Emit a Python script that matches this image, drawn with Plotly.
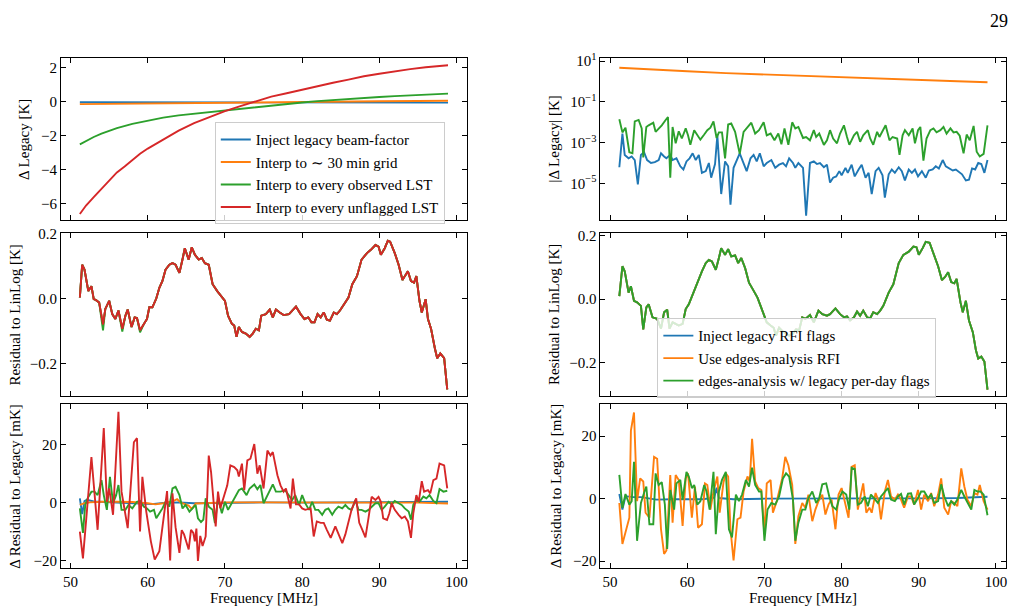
import plotly.graph_objects as go

# ---------------- data ----------------
# Top-left: Delta Legacy [K]
tl_blue_f = [51.2, 55, 60, 65, 70, 75, 80, 85, 90, 95, 98.9]
tl_blue_v = [-0.03, -0.03, -0.03, -0.02, -0.02, -0.02, -0.02, -0.03, -0.03, -0.03, -0.04]
tl_orange_f = [51.2, 55, 60, 65, 70, 75, 80, 85, 90, 95, 98.9]
tl_orange_v = [-0.14, -0.12, -0.09, -0.07, -0.04, -0.02, 0.0, 0.02, 0.03, 0.05, 0.06]
tl_green_f = [51.2, 52, 53, 54, 55, 56, 58, 60, 62, 64, 66, 68, 70, 72, 74, 76, 78, 80, 82, 84, 86, 88, 90, 92, 94, 96, 98, 98.9]
tl_green_v = [-2.5, -2.3, -2.07, -1.87, -1.7, -1.55, -1.3, -1.1, -0.93, -0.8, -0.7, -0.61, -0.52, -0.41, -0.31, -0.21, -0.12, -0.04, 0.04, 0.11, 0.17, 0.23, 0.28, 0.33, 0.38, 0.42, 0.46, 0.48]
tl_red_f = [51.2, 52, 53, 54, 55, 56, 57, 58, 59, 60, 62, 64, 66, 68, 70, 72, 74, 76, 78, 80, 82, 84, 86, 88, 90, 92, 94, 96, 98, 98.9]
tl_red_v = [-6.6, -6.1, -5.6, -5.1, -4.6, -4.15, -3.8, -3.4, -3.05, -2.75, -2.2, -1.7, -1.25, -0.9, -0.55, -0.25, 0.02, 0.3, 0.5, 0.72, 0.92, 1.12, 1.3, 1.5, 1.65, 1.8, 1.92, 2.03, 2.12, 2.15]

# Middle-left: residual to LinLog [K]
ml_f = [51.2, 51.5, 51.8, 52.3, 52.7, 53.0, 53.3, 53.7, 54.2, 54.5, 55.0, 55.4, 55.8, 56.2, 56.7, 57.1, 57.4, 57.9, 58.3, 58.6,
        59.0, 59.5, 59.9, 60.2, 60.6, 61.1, 61.5, 61.9, 62.3, 62.8, 63.2, 63.6, 64.1, 64.5, 64.8, 65.3, 65.7, 66.1, 66.6, 67.0,
        67.4, 67.9, 68.4, 69.0, 69.6, 70.0, 70.4, 70.9, 71.2, 71.5, 71.8, 72.2, 72.7, 73.2, 73.6, 74.0, 74.4, 74.7, 75.3, 75.8,
        76.2, 76.6, 77.1, 77.6, 78.3, 78.7, 79.2, 79.8, 80.3, 80.8, 81.2, 81.6, 82.0, 82.4, 82.8, 83.2, 83.6, 84.1, 84.5, 84.9,
        85.4, 86.0, 86.5, 87.1, 87.7, 88.4, 88.9, 89.5, 89.9, 90.2, 90.7, 91.1, 91.4, 92.0, 92.5, 93.0, 93.3, 93.7, 94.1, 94.5,
        94.8, 95.2, 95.5, 96.0, 96.3, 96.7, 97.2, 97.5, 97.9, 98.4, 98.8]
ml_v = [0.003, 0.104, 0.089, 0.023, 0.038, -0.002, -0.005, -0.012, -0.08, -0.032, -0.007, -0.048, -0.063, -0.037, -0.093, -0.053, -0.034, -0.088, -0.058, -0.06,
        -0.098, -0.078, -0.063, -0.027, -0.027, 0.0, 0.033, 0.054, 0.089, 0.104, 0.109, 0.104, 0.079, 0.12, 0.155, 0.12, 0.158, 0.135, 0.12, 0.125,
        0.109, 0.104, 0.044, 0.023, 0.003, -0.007, -0.053, -0.078, -0.083, -0.118, -0.088, -0.103, -0.108, -0.118, -0.108, -0.093, -0.098, -0.053, -0.048, -0.034,
        -0.058, -0.034, -0.043, -0.051, -0.048, -0.037, -0.025, -0.048, -0.063, -0.058, -0.073, -0.073, -0.048, -0.058, -0.043, -0.065, -0.068, -0.043, -0.048, -0.037,
        -0.017, 0.003, 0.044, 0.069, 0.12, 0.14, 0.15, 0.165, 0.16, 0.135, 0.155, 0.178, 0.175, 0.14, 0.104, 0.057, 0.069, 0.084, 0.054, 0.049,
        0.069, -0.007, -0.043, -0.002, -0.063, -0.093, -0.154, -0.184, -0.169, -0.184, -0.28]
# green series in the middle-left panel dips slightly deeper at a few channels
ml_green_f = [54.2, 56.7, 59.0]
ml_green_v = [-0.098, -0.102, -0.104]

# Bottom-left: Delta residual to legacy [mK]
bl_blue_f = [51.2, 51.5, 51.8, 52.1, 53, 55, 57, 59, 60.5, 62, 64, 66, 70, 75, 80, 85, 90, 95, 98.9]
bl_blue_v = [1.5, -4.0, 0.5, 1.0, 0.4, 0.2, 0.0, -0.2, -0.5, -0.1, 0.1, -0.2, 0.0, 0.1, 0.0, 0.1, 0.1, 0.2, 0.3]
bl_orange_f = [51.2, 51.8, 52.5, 54, 56, 58, 60, 61, 62, 63.3, 63.8, 64.3, 65.3, 65.7, 66.2, 68, 70, 75, 80, 85, 90, 95, 98.9]
bl_orange_v = [-0.8, -0.2, 0.1, 0.3, 0.3, 0.2, -0.2, -0.6, -0.2, 0.5, 1.2, 0.0, -1.0, -2.2, -0.3, 0.0, 0.1, 0.1, 0.0, -0.1, 0.0, 0.0, -0.3]
bl_green_f = [51.2, 51.6, 51.9, 52.2, 52.7, 53.1, 53.5, 54.0, 54.3, 54.7, 55.1, 55.5, 55.9, 56.2, 56.6, 57.1, 57.5, 58.0, 58.6, 59.0,
              59.5, 59.9, 60.3, 60.8, 61.1, 61.5, 61.9, 62.3, 62.8, 63.2, 63.6, 64.1, 64.5, 64.9, 65.4, 65.8, 66.2, 66.5, 66.9, 67.2,
              67.5, 67.9, 68.4, 68.7, 69.1, 69.6, 70.0, 70.4, 70.9, 71.4, 71.8, 72.2, 72.8, 73.2, 73.8, 74.2, 74.6, 75.0, 75.5, 75.9,
              76.2, 76.6, 77.2, 77.8, 78.2, 78.7, 79.1, 79.6, 80.0, 80.4, 80.9, 81.3, 81.7, 82.1, 82.6, 83.0, 83.4, 83.9, 84.3, 84.7,
              85.2, 85.6, 86.0, 86.4, 86.9, 87.3, 87.7, 88.2, 88.6, 89.0, 89.5, 89.9, 90.3, 90.7, 91.2, 91.6, 92.0, 92.5, 92.9, 93.3,
              93.8, 94.1, 94.4, 94.8, 95.2, 95.7, 96.1, 96.5, 97.0, 97.4, 97.8, 98.3, 98.8]
bl_green_v = [-2.0, -10.5, -0.8, 1.5, 3.8, 3.8, 2.6, 7.8, 2.6, -2.5, 8.9, -0.2, 2.6, 6.1, -2.5, -2.5, -0.8, -2.0, 0.3, 0.6,
              -1.4, -2.0, -3.1, -2.5, -5.4, -3.7, -2.0, 0.3, -1.4, 4.9, 5.5, 2.6, -2.0, -0.8, -3.1, -2.0, -0.8, -5.4, -6.7, -5.9,
              1.5, -1.4, -2.5, -7.1, 1.5, -3.7, 0.3, -2.5, -0.2, 2.6, 4.3, 4.9, 2.6, 4.9, 6.3, 4.6, 6.1, -0.2, 2.6, 4.3,
              6.3, 3.8, 3.8, 4.3, 2.6, 0.9, 2.6, -0.8, 2.6, -0.2, -2.5, 0.3, -2.5, -2.5, -4.2, -2.5, -2.0, -4.2, -2.5, -1.4,
              -2.0, -0.8, -2.0, -2.5, 0.9, -2.5, -2.5, -3.1, -2.5, -1.4, -0.2, -0.2, -2.5, -1.4, 0.3, -0.6, 0.6, -0.2, -0.8, -2.0,
              -3.1, -5.9, -0.8, 0.9, 0.3, 2.1, 1.5, 2.6, 0.6, -0.2, 4.7, 3.8, 4.1]
bl_red_f = [51.2, 51.6, 52.7, 53.5, 54.3, 54.7, 55.0, 55.5, 56.2, 56.6, 57.4, 58.2, 58.6, 59.0, 59.3, 59.8, 60.4, 60.9, 61.5, 61.9,
            62.5, 62.9, 63.2, 63.6, 64.1, 64.4, 64.7, 65.3, 65.6, 65.9, 66.1, 66.3, 66.5, 66.8, 67.1, 67.5, 67.9, 68.2, 68.5, 68.8,
            69.1, 69.4, 69.9, 70.3, 70.7, 71.2, 71.6, 71.8, 72.2, 72.5, 72.9, 73.3, 73.8, 74.2, 74.5, 75.0, 75.5, 75.9, 76.2, 76.8,
            77.2, 77.6, 77.9, 78.3, 78.5, 78.8, 79.2, 79.6, 80.0, 80.4, 81.1, 81.5, 81.9, 82.4, 82.8, 83.2, 83.7, 84.3, 84.7, 85.2,
            85.6, 86.0, 86.4, 87.0, 87.4, 87.8, 88.2, 88.6, 89.0, 89.5, 89.9, 90.2, 90.5, 91.0, 91.3, 91.6, 92.0, 92.5, 92.9, 93.3,
            93.7, 94.1, 94.4, 94.8, 95.1, 95.5, 95.8, 96.3, 96.6, 97.0, 97.4, 97.8, 98.4, 98.8]
bl_red_v = [-10.0, -19.3, 15.8, -9.4, 25.8, 0.3, 4.9, -4.2, 31.4, 3.8, -8.8, 20.9, 22.3, -10.0, 8.9, -3.0, -13.4, -19.7, -16.8, -8.8,
            4.0, -20.0, 3.2, -8.5, -17.4, -9.5, -11.0, -16.2, -9.4, -10.5, -13.4, -9.0, -20.2, -11.5, -15.0, -11.7, 16.3, 10.6, 1.5, -8.2,
            3.8, -1.9, 2.5, 6.0, 12.9, 12.3, 11.2, 9.0, 13.5, 4.3, 14.6, 15.2, 20.3, 10.0, 12.9, 4.9, 18.0, 16.3, 17.5, 9.5,
            6.0, 3.8, 4.9, -0.2, -2.0, 8.3, -0.6, -0.6, -2.0, -2.5, -2.0, -11.7, -6.5, -7.0, -7.0, -9.4, -12.2, -8.2, -11.0, -14.0,
            -11.0, -6.5, -2.5, 1.5, -7.0, -9.4, -12.0, -5.3, 2.0, 0.9, 2.0, 0.3, -5.4, -6.0, -3.7, -0.2, -2.5, -4.2, -5.4, -4.8,
            -6.5, -12.2, -3.7, 2.6, 0.3, 7.4, 3.8, 4.3, 3.2, 7.8, 8.3, 13.5, 12.9, 4.9]

# Top-right: |Delta Legacy| [K] (log scale)
tr_orange_f = [51.2, 55, 60, 65, 70, 75, 80, 85, 90, 95, 98.9]
tr_orange_v = [4.8, 3.9, 3.2, 2.6, 2.2, 1.85, 1.57, 1.35, 1.17, 1.03, 0.93]
tr_green_f = [51.2, 51.6, 52.0, 52.5, 52.9, 53.2, 53.7, 54.1, 54.3, 54.7, 55.0, 55.6, 55.9, 56.7, 57.2, 57.5, 57.8, 58.1, 58.5, 58.9,
              59.3, 59.8, 60.1, 60.4, 60.9, 61.3, 61.7, 62.2, 62.6, 63.0, 63.4, 63.8, 64.1, 64.5, 64.9, 65.3, 65.7, 66.2, 66.8, 67.3,
              67.9, 68.3, 68.8, 69.3, 69.9, 70.3, 70.8, 71.3, 71.8, 72.2, 72.6, 73.1, 73.6, 74.0, 74.4, 75.0, 75.4, 75.9, 76.4, 76.7,
              77.1, 77.7, 78.1, 78.5, 78.9, 79.4, 79.8, 80.3, 80.7, 81.0, 81.6, 82.0, 82.4, 82.8, 83.4, 83.7, 84.1, 84.6, 84.9, 85.2,
              85.7, 86.2, 86.6, 87.2, 87.5, 87.9, 88.2, 88.7, 89.2, 89.5, 89.9, 90.2, 90.6, 91.0, 91.5, 91.9, 92.3, 92.8, 93.2, 93.6,
              94.1, 94.5, 94.9, 95.3, 95.8, 96.2, 96.6, 97.1, 97.5, 97.9, 98.4, 98.9]
tr_green_v = [1.4e-2, 3.2e-3, 5.4e-3, 3.4e-4, 3.0e-4, 1.1e-2, 1.3e-2, 5.0e-3, 1.9e-4, 5.9e-3, 7.1e-3, 9.5e-3, 3.4e-3, 7.1e-3, 1.3e-2, 1.8e-2, 1.9e-5, 5.9e-3, 9.3e-4, 3.6e-3,
              1.6e-3, 5.0e-3, 2.3e-3, 7.8e-4, 4.1e-3, 2.3e-3, 1.4e-3, 2.5e-3, 4.1e-3, 5.4e-3, 1.1e-2, 1.7e-3, 3.2e-3, 3.2e-3, 1.7e-4, 7.8e-3, 8.7e-3, 3.4e-3, 2.8e-4, 3.4e-3,
              5.9e-3, 9.5e-3, 2.8e-3, 4.1e-3, 1.0e-2, 2.3e-3, 2.8e-3, 1.3e-3, 2.8e-3, 8.3e-4, 5.0e-3, 7.8e-4, 1.0e-2, 5.0e-3, 5.9e-3, 1.7e-3, 1.9e-3, 1.3e-3, 4.1e-3, 1.9e-3,
              2.8e-3, 7.8e-4, 1.3e-3, 4.1e-3, 1.6e-3, 9.3e-4, 2.8e-3, 7.1e-3, 1.9e-3, 7.8e-4, 2.3e-3, 3.4e-3, 1.1e-3, 2.3e-3, 4.1e-3, 1.6e-3, 7.8e-4, 3.4e-3, 1.9e-3, 3.2e-3,
              7.1e-3, 1.3e-3, 1.9e-3, 1.6e-3, 2.5e-4, 2.3e-3, 4.1e-3, 2.3e-3, 5.0e-3, 9.3e-4, 4.1e-3, 5.9e-3, 1.3e-4, 1.6e-3, 4.1e-3, 5.0e-3, 3.2e-3, 4.1e-3, 5.9e-3, 2.8e-3,
              5.0e-3, 3.2e-3, 3.4e-3, 2.2e-3, 3.0e-4, 2.5e-3, 1.3e-3, 6.6e-3, 3.6e-4, 2.1e-4, 2.8e-4, 7.1e-3]
tr_blue_f = [51.2, 51.6, 51.9, 52.4, 52.8, 53.2, 53.6, 54.0, 54.4, 54.8, 55.3, 55.8, 56.3, 56.6, 57.0, 57.3, 57.8, 58.1, 58.6, 59.1,
             59.5, 59.9, 60.3, 60.7, 61.1, 61.5, 61.9, 62.4, 62.8, 63.1, 63.6, 63.9, 64.4, 64.9, 65.3, 65.6, 66.0, 66.5, 66.8, 67.2,
             67.7, 68.2, 68.6, 69.0, 69.4, 69.9, 70.3, 70.9, 71.4, 71.9, 72.4, 72.8, 73.2, 73.7, 74.0, 74.4, 75.0, 75.4, 75.9, 76.4,
             76.8, 77.2, 77.7, 78.1, 78.5, 78.9, 79.3, 79.7, 80.0, 80.5, 80.8, 81.3, 81.7, 82.2, 82.6, 83.1, 83.5, 83.9, 84.4, 84.8,
             85.3, 85.6, 86.1, 86.5, 86.9, 87.4, 87.8, 88.2, 88.7, 89.1, 89.5, 89.9, 90.4, 90.9, 91.3, 91.8, 92.2, 92.6, 93.1, 93.5,
             93.9, 94.4, 94.8, 95.2, 95.6, 96.1, 96.5, 96.9, 97.3, 97.7, 98.1, 98.5, 98.9]
tr_blue_v = [6.2e-5, 2.8e-3, 2.5e-4, 1.7e-4, 2.1e-4, 1.4e-4, 8.9e-6, 2.5e-4, 3.4e-4, 1.4e-4, 1.0e-4, 1.1e-4, 1.4e-4, 3.0e-4, 2.1e-4, 1.7e-4, 2.5e-4, 1.4e-4, 1.7e-4, 6.9e-5,
             4.8e-5, 1.2e-4, 1.7e-4, 3.0e-4, 1.4e-4, 2.5e-4, 3.3e-5, 4.0e-5, 1.0e-4, 1.9e-5, 8.9e-5, 2.3e-3, 3.0e-6, 1.2e-4, 6.9e-5, 8.9e-7, 5.8e-5, 1.7e-4, 3.0e-4, 1.2e-4,
             4.0e-5, 1.7e-4, 2.5e-4, 1.2e-4, 3.0e-4, 6.9e-5, 1.0e-4, 1.4e-4, 5.8e-5, 8.3e-5, 1.0e-4, 6.9e-5, 1.7e-4, 1.0e-4, 5.8e-5, 1.0e-4, 5.8e-5, 2.6e-7, 1.0e-4, 1.2e-4,
             8.9e-5, 1.0e-4, 6.2e-5, 8.3e-5, 1.1e-5, 1.9e-5, 2.2e-5, 4.0e-5, 2.5e-5, 5.8e-5, 3.3e-5, 8.3e-5, 2.2e-5, 4.8e-5, 8.3e-5, 1.9e-5, 3.3e-5, 3.0e-6, 4.0e-5, 5.8e-5,
             2.5e-5, 2.0e-6, 2.8e-5, 4.8e-5, 3.3e-5, 6.2e-5, 4.0e-5, 1.4e-5, 4.8e-5, 3.3e-5, 4.8e-5, 2.2e-5, 4.0e-5, 1.9e-5, 4.3e-5, 4.8e-5, 6.9e-5, 5.4e-5, 1.4e-4, 6.9e-5,
             5.8e-5, 4.3e-5, 4.8e-5, 3.6e-5, 2.8e-5, 1.4e-5, 1.5e-5, 5.4e-5, 4.8e-5, 1.0e-4, 8.9e-5, 3.3e-5, 1.4e-4]

# Middle-right: residual to LinLog [K]
mr_f = [51.2, 51.6, 51.9, 52.4, 52.7, 53.1, 53.5, 54.0, 54.3, 54.7, 55.0, 55.5, 56.1, 56.6, 57.0, 57.4, 57.7, 58.1, 58.5, 58.9,
        59.4, 59.8, 60.2, 60.6, 61.1, 61.5, 61.9, 62.4, 62.8, 63.2, 63.7, 64.1, 64.4, 64.9, 65.3, 65.7, 66.2, 66.6, 67.0, 67.5,
        68.0, 68.5, 69.1, 69.5, 69.9, 70.3, 70.8, 71.2, 71.5, 71.9, 72.3, 72.8, 73.2, 73.7, 74.1, 74.5, 74.9, 75.3, 75.9, 76.4,
        77.0, 77.5, 78.1, 78.5, 79.2, 79.8, 80.3, 80.7, 81.1, 81.6, 82.0, 82.4, 82.8, 83.3, 83.7, 84.1, 84.6, 85.0, 85.4, 86.1,
        86.7, 87.4, 88.0, 88.7, 89.3, 89.7, 90.0, 90.5, 90.9, 91.4, 91.9, 92.5, 93.0, 93.4, 93.8, 94.2, 94.6, 94.9, 95.4, 95.7,
        96.1, 96.5, 97.0, 97.4, 97.7, 98.1, 98.5, 98.9]
mr_v = [0.01, 0.104, 0.088, 0.021, 0.041, -0.005, -0.01, -0.021, -0.095, -0.026, -0.016, -0.057, -0.062, -0.093, -0.041, -0.033, -0.093, -0.073, -0.078, -0.083,
        -0.078, -0.031, -0.016, 0.01, 0.041, 0.067, 0.088, 0.114, 0.124, 0.119, 0.093, 0.13, 0.161, 0.14, 0.158, 0.135, 0.138, 0.114, 0.13, 0.098,
        0.052, 0.031, 0.005, -0.021, -0.047, -0.073, -0.083, -0.09, -0.115, -0.09, -0.1, -0.108, -0.115, -0.108, -0.095, -0.098, -0.057, -0.062, -0.05, -0.073,
        -0.036, -0.047, -0.052, -0.047, -0.029, -0.047, -0.057, -0.054, -0.067, -0.057, -0.039, -0.052, -0.036, -0.057, -0.06, -0.041, -0.047, -0.036, -0.021, 0.021,
        0.047, 0.114, 0.14, 0.15, 0.166, 0.164, 0.14, 0.161, 0.181, 0.178, 0.145, 0.104, 0.06, 0.07, 0.085, 0.054, 0.05, 0.064, -0.01, -0.041,
        -0.005, -0.067, -0.104, -0.161, -0.187, -0.181, -0.197, -0.285]

# Bottom-right: Delta residual to legacy [mK]
br_blue_f = [51.2, 51.6, 52.0, 53, 54, 55, 56, 58, 60, 62, 63.5, 63.8, 64.1, 66, 70, 75, 80, 85, 90, 95, 98.9]
br_blue_v = [1.5, -3.5, 0.8, 0.5, 0.5, 0.2, -0.3, -0.2, -0.3, -0.2, 0.3, 3.5, 0.2, -0.2, 0.0, 0.1, 0.1, 0.1, 0.1, 0.2, 0.6]
br_orange_f = [51.2, 51.6, 52.5, 52.7, 53.1, 53.5, 53.9, 54.3, 54.6, 55.1, 55.7, 56.1, 56.6, 57.0, 57.3, 57.8, 58.1, 58.5, 58.9, 59.4,
               59.8, 60.1, 60.6, 61.0, 61.4, 61.9, 62.3, 62.6, 63.0, 63.4, 63.9, 64.2, 64.7, 65.0, 65.3, 65.6, 66.0, 66.5, 66.9, 67.3,
               67.8, 68.1, 68.4, 68.8, 69.2, 69.6, 70.0, 70.3, 70.8, 71.1, 71.6, 71.9, 72.3, 72.7, 73.1, 73.6, 74.0, 74.4, 74.9, 75.3,
               75.7, 76.2, 76.6, 77.0, 77.5, 77.9, 78.3, 78.7, 79.2, 79.6, 80.0, 80.5, 80.9, 81.3, 81.7, 82.1, 82.5, 82.8, 83.2, 83.6,
               83.9, 84.4, 84.8, 85.1, 85.6, 86.0, 86.4, 86.9, 87.3, 87.7, 88.1, 88.6, 89.0, 89.4, 89.9, 90.3, 90.7, 91.2, 91.6, 92.0,
               92.5, 92.9, 93.3, 93.8, 94.2, 94.6, 95.0, 95.5, 95.9, 96.3, 96.8, 97.2, 97.6, 97.9, 98.4, 98.9]
br_orange_v = [-1.4, -14.5, -6.1, 21.8, 27.6, -0.8, 6.5, 5.5, -4.5, -6.1, 13.4, 12.8, -9.8, -17.7, -16.6, 7.6, -7.7, 7.6, 6.0, -8.7,
               6.5, 8.1, -6.1, 3.9, -9.3, -8.2, 4.9, 4.4, -3.5, 2.3, 7.1, -4.5, 5.3, 8.1, 7.1, -9.8, -19.8, -6.6, -6.1, 2.3,
               7.1, 5.5, 19.2, 5.5, 3.4, 2.8, -11.4, 4.9, 6.0, -4.5, -0.8, 2.8, 6.5, 13.4, 10.7, 4.4, -14.5, -5.6, -1.4, -2.9,
               1.3, -7.2, -3.5, -0.8, 1.3, -5.1, -1.9, -0.3, -9.8, 1.3, 3.4, -1.9, -6.1, 10.2, 10.7, -3.5, 1.3, 4.9, -4.5, -2.9,
               -4.5, 1.8, -0.8, -6.6, 2.3, 6.0, 0.7, -0.3, 1.3, -0.3, -2.9, 0.7, 0.7, -1.9, 2.8, -3.5, 1.3, -0.8, 1.8, -2.4,
               1.3, 6.5, -2.9, -5.1, -0.8, -1.4, -2.4, 9.7, 3.9, -0.3, -2.4, 1.8, 1.3, 4.4, -0.8, -3.5]
br_green_f = [51.2, 51.6, 52.0, 52.5, 52.8, 53.1, 53.5, 54.0, 54.4, 54.7, 55.1, 55.6, 55.9, 56.3, 56.7, 57.1, 57.4, 57.8, 58.3, 58.6,
              59.1, 59.4, 59.9, 60.2, 60.6, 60.9, 61.3, 61.7, 62.2, 62.5, 62.9, 63.4, 63.7, 64.1, 64.5, 65.0, 65.4, 65.8, 66.3, 66.7,
              67.1, 67.6, 68.0, 68.4, 68.8, 69.3, 69.6, 70.0, 70.4, 70.9, 71.4, 71.9, 72.4, 72.8, 73.2, 73.7, 74.0, 74.4, 74.9, 75.3,
              75.7, 76.2, 76.7, 77.1, 77.5, 78.0, 78.4, 78.8, 79.3, 79.7, 80.1, 80.6, 81.0, 81.3, 81.7, 82.1, 82.5, 83.0, 83.4, 83.8,
              84.2, 84.7, 85.1, 85.6, 86.0, 86.4, 86.9, 87.3, 87.7, 88.1, 88.6, 89.0, 89.4, 89.9, 90.3, 90.7, 91.2, 91.6, 92.0, 92.5,
              92.9, 93.3, 93.8, 94.2, 94.6, 95.0, 95.5, 95.9, 96.3, 96.8, 97.2, 97.6, 98.0, 98.4, 98.9]
br_green_v = [7.6, -2.9, 1.5, -1.9, -0.8, 11.8, -13.5, -1.4, 1.8, 3.9, -8.2, -8.2, 8.1, 4.4, 5.3, -1.9, -16.1, 2.8, -3.5, 4.9,
              6.0, -0.3, 8.6, 7.1, 3.4, 4.4, -1.9, -0.8, 4.4, 2.3, -3.5, 8.6, -11.4, 2.3, 6.0, 8.6, -9.8, -12.4, 1.3, -0.8,
              1.3, 6.0, 3.9, 9.9, 4.4, 2.3, 2.3, -13.5, -3.5, -1.4, -1.9, 0.7, 6.5, 8.1, 7.1, -0.3, -13.5, -7.7, -3.5, -3.5,
              0.2, 2.3, -1.4, 0.2, 4.6, 4.9, 0.7, -2.4, -3.5, 0.2, 2.3, 1.3, -3.5, 9.9, 9.5, -1.9, -1.4, 0.7, -2.4, 1.3,
              0.2, -1.4, 0.7, 2.3, 3.4, -0.3, -0.8, 0.7, 1.5, -1.9, 1.6, 1.7, -1.9, 0.2, 2.3, 2.3, 0.2, 1.3, -1.4, -0.8,
              4.6, 0.7, -2.4, -0.8, -1.9, -0.3, 2.8, 0.7, -1.4, -3.5, 2.8, 2.3, 2.3, 1.3, -5.3]

left_labels = ["Inject legacy beam-factor", "Interp to \u223c 30 min grid",
               "Interp to every observed LST", "Interp to every unflagged LST"]
right_labels = ["Inject legacy RFI flags", "Use edges-analysis RFI",
                "edges-analysis w/ legacy per-day flags"]
freq_ticks = [50, 60, 70, 80, 90, 100]

# ---------------- style ----------------
BLUE, ORANGE, GREEN, RED = "#1f77b4", "#ff7f0e", "#2ca02c", "#d62728"
FONT = "Liberation Serif, Times New Roman, Times, serif"
FS = 15
W, H = 1024, 614
LW = 1.9


def dx(a, b):
    return [a / W, b / W]


def dy(top, bottom):
    return [1 - bottom / H, 1 - top / H]


COLS = {"L": dx(61, 467), "R": dx(601, 1007)}
ROWS = {1: dy(52, 216), 2: dy(229, 395), 3: dy(403, 569)}

fig = go.Figure()


def add(f, v, color, ax, name, show, legend="legend"):
    fig.add_trace(go.Scatter(x=f, y=v, mode="lines", line=dict(color=color, width=LW),
                             name=name, showlegend=show, legend=legend,
                             xaxis="x" + ax, yaxis="y" + ax, hoverinfo="skip"))


# middle-left green series: common residual with its few deeper dips
ml_green_pts = dict(zip(ml_f, ml_v))
ml_green_pts.update(dict(zip(ml_green_f, ml_green_v)))
ml_gf = sorted(ml_green_pts)
ml_gv = [ml_green_pts[k] for k in ml_gf]

# left column
add(tl_blue_f, tl_blue_v, BLUE, "", left_labels[0], True)
add(tl_orange_f, tl_orange_v, ORANGE, "", left_labels[1], True)
add(tl_green_f, tl_green_v, GREEN, "", left_labels[2], True)
add(tl_red_f, tl_red_v, RED, "", left_labels[3], True)
add(ml_f, ml_v, BLUE, "2", left_labels[0], False)
add(ml_f, ml_v, ORANGE, "2", left_labels[1], False)
add(ml_gf, ml_gv, GREEN, "2", left_labels[2], False)
add(ml_f, ml_v, RED, "2", left_labels[3], False)
add(bl_blue_f, bl_blue_v, BLUE, "3", left_labels[0], False)
add(bl_orange_f, bl_orange_v, ORANGE, "3", left_labels[1], False)
add(bl_green_f, bl_green_v, GREEN, "3", left_labels[2], False)
add(bl_red_f, bl_red_v, RED, "3", left_labels[3], False)

# right column
add(tr_blue_f, tr_blue_v, BLUE, "4", right_labels[0], True, "legend2")
add(tr_orange_f, tr_orange_v, ORANGE, "4", right_labels[1], True, "legend2")
add(tr_green_f, tr_green_v, GREEN, "4", right_labels[2], True, "legend2")
for c, n in zip([BLUE, ORANGE, GREEN], right_labels):
    add(mr_f, mr_v, c, "5", n, False, "legend2")
add(br_blue_f, br_blue_v, BLUE, "6", right_labels[0], False, "legend2")
add(br_orange_f, br_orange_v, ORANGE, "6", right_labels[1], False, "legend2")
add(br_green_f, br_green_v, GREEN, "6", right_labels[2], False, "legend2")

tickfont = dict(family=FONT, size=FS, color="black")
base = dict(showline=True, linecolor="black", linewidth=1, mirror="allticks",
            ticks="inside", ticklen=5, tickwidth=1, tickcolor="black",
            showgrid=False, zeroline=False, tickfont=tickfont)

layout = {}
cells = [("", "L", 1), ("2", "L", 2), ("3", "L", 3), ("4", "R", 1), ("5", "R", 2), ("6", "R", 3)]
for ax, col, row in cells:
    layout["xaxis" + ax] = dict(base, domain=COLS[col], anchor="y" + ax, range=[48.75, 101.3],
                                tickvals=freq_ticks, showticklabels=(row == 3))
y_specs = {
    "": dict(range=[-6.94, 2.56], tickvals=[-6, -4, -2, 0, 2]),
    "2": dict(range=[-0.301, 0.203], tickvals=[-0.2, 0.0, 0.2], ticktext=["\u22120.2", "0.0", "0.2"]),
    "3": dict(range=[-22.5, 34.1], tickvals=[-20, 0, 20]),
    "4": dict(type="log", range=[-6.79, 1.145], tickvals=[10, 0.1, 1e-3, 1e-5],
              ticktext=["10<sup>1</sup>", "10<sup>\u22121</sup>", "10<sup>\u22123</sup>", "10<sup>\u22125</sup>"]),
    "5": dict(range=[-0.306, 0.21], tickvals=[-0.2, 0.0, 0.2], ticktext=["\u22120.2", "0.0", "0.2"]),
    "6": dict(range=[-22.1, 30.3], tickvals=[-20, 0, 20]),
}
for ax, col, row in cells:
    layout["yaxis" + ax] = dict(base, domain=ROWS[row], anchor="x" + ax, **y_specs[ax])

fig.update_layout(**layout)

legfont = dict(family=FONT, size=FS, color="black")
fig.update_layout(
    width=W, height=H, margin=dict(l=0, r=0, t=0, b=0),
    paper_bgcolor="white", plot_bgcolor="white",
    font=dict(family=FONT, size=FS, color="black"),
    legend=dict(x=215 / W, y=1 - 117 / H, xanchor="left", yanchor="top", font=legfont,
                bgcolor="rgba(255,255,255,0.8)", bordercolor="#cccccc", borderwidth=1,
                tracegroupgap=0, itemwidth=30),
    legend2=dict(x=658 / W, y=1 - 316 / H, xanchor="left", yanchor="top", font=legfont,
                 bgcolor="rgba(255,255,255,0.8)", bordercolor="#cccccc", borderwidth=1,
                 tracegroupgap=0, itemwidth=30),
)

titles = [
    ("\u0394 Legacy [K]", 24, (52 + 216) / 2),
    ("Residual to LinLog [K]", 15, (229 + 395) / 2),
    ("\u0394 Residual to Legacy [mK]", 15, (403 + 569) / 2),
    ("|\u0394 Legacy| [K]", 555, (52 + 216) / 2),
    ("Residual to LinLog [K]", 555, (229 + 395) / 2),
    ("\u0394 Residual to Legacy [mK]", 556, (403 + 569) / 2),
]
ann = []
for t, x, y in titles:
    ann.append(dict(text=t, x=x / W, y=1 - y / H, xref="paper", yref="paper", showarrow=False,
                    textangle=-90, xanchor="center", yanchor="middle",
                    font=dict(family=FONT, size=FS, color="black")))
for x in [(61 + 467) / 2, (601 + 1007) / 2]:
    ann.append(dict(text="Frequency [MHz]", x=x / W, y=1 - 600 / H, xref="paper", yref="paper",
                    showarrow=False, xanchor="center", yanchor="middle",
                    font=dict(family=FONT, size=FS, color="black")))
ann.append(dict(text="29", x=1000 / W, y=1 - 14 / H, xref="paper", yref="paper", showarrow=False,
                xanchor="center", yanchor="middle", font=dict(family=FONT, size=18, color="black")))
fig.update_layout(annotations=ann)

fig.write_html("out.html")
